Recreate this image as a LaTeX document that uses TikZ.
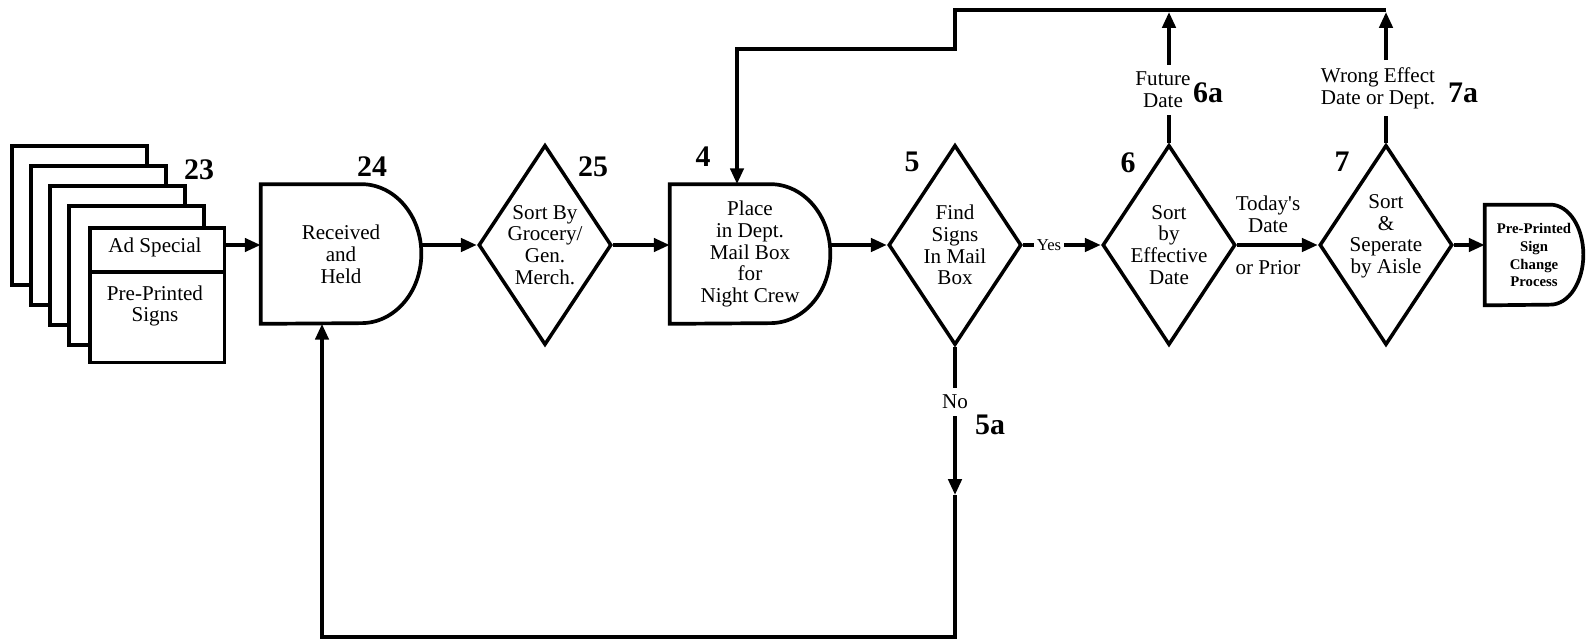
\documentclass[tikz,border=0pt]{standalone}
\usepackage{fontspec}
\setmainfont{Liberation Serif}[Ligatures=TeXOff]
\usetikzlibrary{arrows.meta,shapes.geometric,positioning}

\tikzset{
  flow/.style={line width=2.1pt},
  arr/.style={flow,-{Triangle[length=9pt,width=7.5pt]}},
  txt/.style={align=center,inner sep=4pt,font=\fontsize{12}{12.4}\selectfont},
  num/.style={inner sep=0pt,font=\fontsize{17}{17}\selectfont\bfseries},
  dia/.style={diamond,draw,line width=2pt,inner sep=0pt,minimum width=2.66cm,minimum height=4cm},
  dtxt/.style={align=center,inner sep=0pt,font=\fontsize{12}{12.4}\selectfont},
  hold/.style={minimum width=3.2cm,minimum height=2.78cm,inner sep=0pt,align=center,font=\fontsize{12}{12.4}\selectfont},
  sheet/.style={draw,fill=white,line width=2pt},
}

\begin{document}
\begin{tikzpicture}[x=0.02cm,y=-0.02cm,line join=miter]
	\useasboundingbox (0,0) rectangle (1589,642);
	
	% stack of signs
	\foreach \k in {0,...,3}
		\draw[sheet] (12+19*\k,146+20*\k) rectangle ++(135,139);
	\node[sheet,anchor=north west,minimum width=2.7cm,minimum height=2.7cm] (sign) at (88,226) {};
	\draw[flow] (sign.west |- 0,272) -- (sign.east |- 0,272);
	\node[txt] (adsp) at (155,247) {Ad Special};
	\node[txt] (pps) at (155,306) {Pre-Printed\\Signs};
	
	% process boxes
	\node[hold] (rcv) at (341,254) {Received\\and\\Held};
	\draw[flow] (rcv.north west) -- ([xshift=-1.2cm]rcv.north east) arc[start angle=90,end angle=-90,x radius=1.2cm,y radius=1.39cm] -- (rcv.south west) -- cycle;
	\node[dia,label={[dtxt]center:Sort By\\Grocery/\\Gen.\\Merch.}] (d25) at (545,245) {};
	\node[hold] (place) at (750,254) {Place\\in Dept.\\Mail Box\\for\\Night Crew};
	\draw[flow] (place.north west) -- ([xshift=-1.2cm]place.north east) arc[start angle=90,end angle=-90,x radius=1.2cm,y radius=1.39cm] -- (place.south west) -- cycle;
	\node[dia,label={[dtxt]center:Find\\Signs\\In Mail\\Box}] (d5) at (955,245) {};
	\node[dia,label={[dtxt]center:Sort\\by\\Effective\\Date}] (d6) at (1169,245) {};
	\node[dia,label={[dtxt,yshift=5pt]center:Sort\\\&\\Seperate\\by Aisle}] (d7) at (1386,245) {};
	\node[hold,minimum width=1.96cm,minimum height=2cm,font=\fontsize{8.4}{10.2}\selectfont\bfseries] (endp) at (1534,255) {Pre-Printed\\Sign\\Change\\Process};
	\draw[flow] (endp.north west) -- ([xshift=-0.66cm]endp.north east) arc[start angle=90,end angle=-90,x radius=0.66cm,y radius=1cm] -- (endp.south west) -- cycle;
	
	% reference numbers
	\node[num] (n23) at (199,170) {23};
	\node[num] (n24) at (372,167) {24};
	\node[num] (n25) at (593,167) {25};
	\node[num] (n4) at (703,157) {4};
	\node[num] (n5) at (912,162) {5};
	\node[num] (n6) at (1128,163) {6};
	\node[num] (n7) at (1342,162) {7};
	\node[num] (n6a) at (1208,93) {6a};
	\node[num] (n7a) at (1463,93) {7a};
	\node[num] (n5a) at (990,425) {5a};
	
	% branch labels
	\node[txt] (fut) at (1163,90) {Future\\Date};
	\node[txt] (wrg) at (1378,88) {Wrong Effect\\Date or Dept.};
	\node[txt] (no) at (955,402) {No};
	\node[txt,inner sep=1.5pt,font=\fontsize{9.5}{10}\selectfont] (yes) at (1049,245) {Yes};
	\node[txt] (tdy) at (1268,214) {Today's\\Date};
	\node[txt] (opr) at (1268,268) {or Prior};
	
	% main flow
	\draw[arr] (sign.east |- d25) -- (rcv.west |- d25);
	\draw[arr] (rcv.east |- d25) -- (d25.west);
	\draw[arr] (d25.east) -- (place.west |- d25);
	\draw[arr] (place.east |- d5) -- (d5.west);
	\draw[flow] (d5.east) -- (yes.west);
	\draw[arr] (yes.east) -- (d6.west);
	\draw[arr] (d6.east) -- (d7.west);
	\draw[arr] (d7.east) -- (endp.west |- d7);
	
	% no signs found
	\coordinate (mid5a) at (955,495);
	\coordinate (loopL) at (322,637);
	\draw[flow] (d5.south) -- (no.north);
	\draw[arr] (no.south) -- (mid5a);
	\draw[arr] (mid5a) -- (mid5a |- loopL) -- (loopL) -- (loopL |- rcv.south);
	
	% back to mail box
	\coordinate (topR) at (1386,10);
	\coordinate (jog) at (955,49);
	\coordinate (drop) at (737,49);
	\draw[flow] (d6.north) -- (d6.north |- fut.south);
	\draw[flow] (d7.north) -- (d7.north |- wrg.south);
	\draw[arr] (d6 |- fut.north) -- (d6 |- 0,12);
	\draw[arr] (d7 |- wrg.north) -- (d7 |- 0,12);
	\draw[arr] (topR) -- (jog |- topR) -- (jog) -- (drop) -- (drop |- place.north);
\end{tikzpicture}
\end{document}
